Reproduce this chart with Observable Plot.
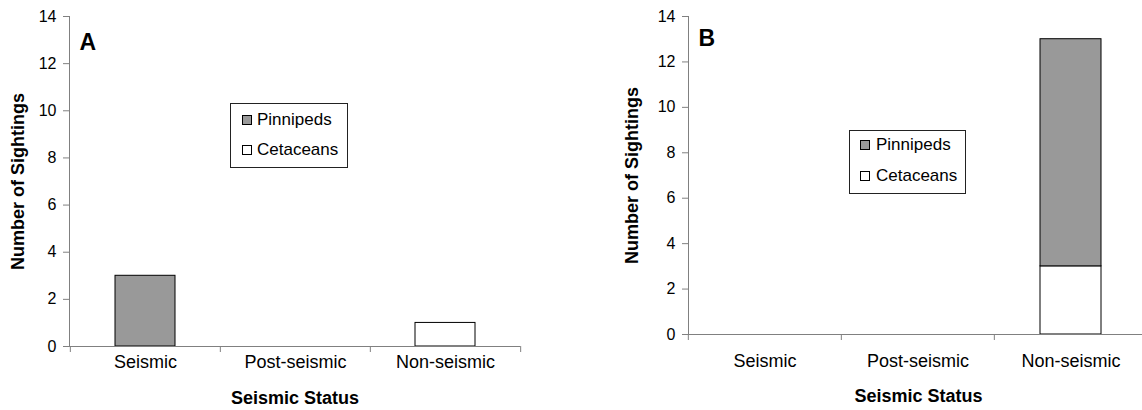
<!DOCTYPE html>
<html>
<head>
<meta charset="utf-8">
<script src="https://cdn.jsdelivr.net/npm/d3@7"></script>
<script src="https://cdn.jsdelivr.net/npm/@observablehq/plot@0.6"></script>
<style>
  html, body { margin: 0; padding: 0; background: #fff; overflow: hidden; }
  #wrap { position: relative; width: 1142px; height: 410px; overflow: hidden; font-family: "Liberation Sans", Arial, sans-serif; }
  .panel { position: absolute; top: 0; }
  .panel svg { max-width: none !important; }
  .legend { position: absolute; border: 1px solid #222; background: #fff; font-size: 17px; color: #000; box-sizing: border-box; }
  .legend .item { position: absolute; white-space: nowrap; line-height: 20px; }
  .legend .sw { position: absolute; width: 10px; height: 10px; border: 1px solid #000; box-sizing: border-box; }
</style>
</head>
<body>
<div id="wrap"></div>
<script>
// ---- data ----
const categories = ["Seismic", "Post-seismic", "Non-seismic"];
const seriesNames = ["Cetaceans", "Pinnipeds"];
const pinnipedsA = [3, 0, 0];
const cetaceansA = [0, 0, 1];
const pinnipedsB = [0, 0, 10];
const cetaceansB = [0, 0, 3];
const yTicks = [0, 2, 4, 6, 8, 10, 12, 14];
const panelLetters = ["A", "B"];
const xTitle = "Seismic Status";
const yTitle = "Number of Sightings";

const colors = {Pinnipeds: "#999999", Cetaceans: "#ffffff"};
const font = '"Liberation Sans", Arial, sans-serif';

function rows(pin, cet) {
  const out = [];
  categories.forEach((c, i) => {
    if (cet[i] > 0) out.push({cat: c, series: "Cetaceans", value: cet[i]});
    if (pin[i] > 0) out.push({cat: c, series: "Pinnipeds", value: pin[i]});
  });
  return out;
}

function panel(cfg) {
  const halfStep = (cfg.xEnd - cfg.mLeft) / 6;
  return Plot.plot({
    width: cfg.width,
    height: 410,
    marginLeft: cfg.mLeft,
    marginRight: cfg.width - cfg.xEnd,
    marginTop: 16,
    marginBottom: cfg.mBottom,
    style: {fontFamily: font, fontSize: "16px", color: "#000", background: "transparent", overflow: "visible", maxWidth: "none"},
    x: {domain: categories, paddingInner: 0.6, paddingOuter: 0.3, axis: null},
    y: {domain: [0, 14], axis: null},
    color: {domain: seriesNames, range: seriesNames.map(s => colors[s])},
    marks: [
      Plot.barY(rows(cfg.pin, cfg.cet), {x: "cat", y: "value", fill: "series", stroke: "#000", strokeWidth: 1}),
      Plot.ruleY([0], {stroke: "#808080", strokeWidth: 1}),
      Plot.frame({anchor: "left", stroke: "#808080"}),
      Plot.axisY({ticks: yTicks, tickSize: 6, tickPadding: 7, fontSize: 16, label: null, stroke: "#808080", fill: "#000"}),
      Plot.axisX({tickSize: 6, tickFormat: () => "", dx: -halfStep, label: null, stroke: "#808080"}),
      Plot.axisX({ticks: [categories[categories.length - 1]], tickSize: 6, tickFormat: () => "", dx: halfStep, label: null, stroke: "#808080"}),
      Plot.text(categories, {x: d => d, frameAnchor: "bottom", dy: cfg.labelDy, lineAnchor: "middle", fontSize: 18, fill: "#000"}),
      Plot.text([xTitle], {frameAnchor: "bottom", dy: cfg.titleDy, lineAnchor: "middle", fontSize: 18, fontWeight: "bold", fill: "#000"}),
      Plot.text([yTitle], {frameAnchor: "left", dx: cfg.yTitleDx, rotate: -90, lineAnchor: "middle", textAnchor: "middle", fontSize: 18, fontWeight: "bold", fill: "#000"}),
      Plot.text([cfg.letter], {frameAnchor: "top-left", dx: cfg.letterDx, dy: cfg.letterDy, lineAnchor: "middle", textAnchor: "start", fontSize: 23, fontWeight: "bold", fill: "#000"})
    ]
  });
}

const wrap = document.getElementById("wrap");

function addPanel(left, cfg, legend) {
  const div = document.createElement("div");
  div.className = "panel";
  div.style.left = left + "px";
  div.style.width = cfg.width + "px";
  div.appendChild(panel(cfg));
  wrap.appendChild(div);
  const lg = document.createElement("div");
  lg.className = "legend";
  lg.style.left = legend.x + "px";
  lg.style.top = legend.y + "px";
  lg.style.width = legend.w + "px";
  lg.style.height = legend.h + "px";
  ["Pinnipeds", "Cetaceans"].forEach((s, i) => {
    const sw = document.createElement("div");
    sw.className = "sw";
    sw.style.left = legend.swx + "px";
    sw.style.top = (legend.sy[i] - 5) + "px";
    sw.style.background = colors[s];
    lg.appendChild(sw);
    const t = document.createElement("div");
    t.className = "item";
    t.style.left = legend.tx + "px";
    t.style.top = (legend.sy[i] - 10) + "px";
    t.textContent = s;
    lg.appendChild(t);
  });
  wrap.appendChild(lg);
}

addPanel(0, {width: 571, mLeft: 69, xEnd: 520, mBottom: 64, pin: pinnipedsA, cet: cetaceansA,
  labelDy: 16, titleDy: 52, yTitleDx: -51, letter: panelLetters[0], letterDx: 10, letterDy: 26},
  {x: 230, y: 103, w: 118, h: 65, swx: 11, tx: 26, sy: [16, 46]});

addPanel(571, {width: 577, mLeft: 117, xEnd: 577, mBottom: 76, pin: pinnipedsB, cet: cetaceansB,
  labelDy: 27, titleDy: 62, yTitleDx: -56, letter: panelLetters[1], letterDx: 10, letterDy: 22},
  {x: 849, y: 130, w: 117, h: 64, swx: 10, tx: 26, sy: [14, 45]});
</script>
</body>
</html>
